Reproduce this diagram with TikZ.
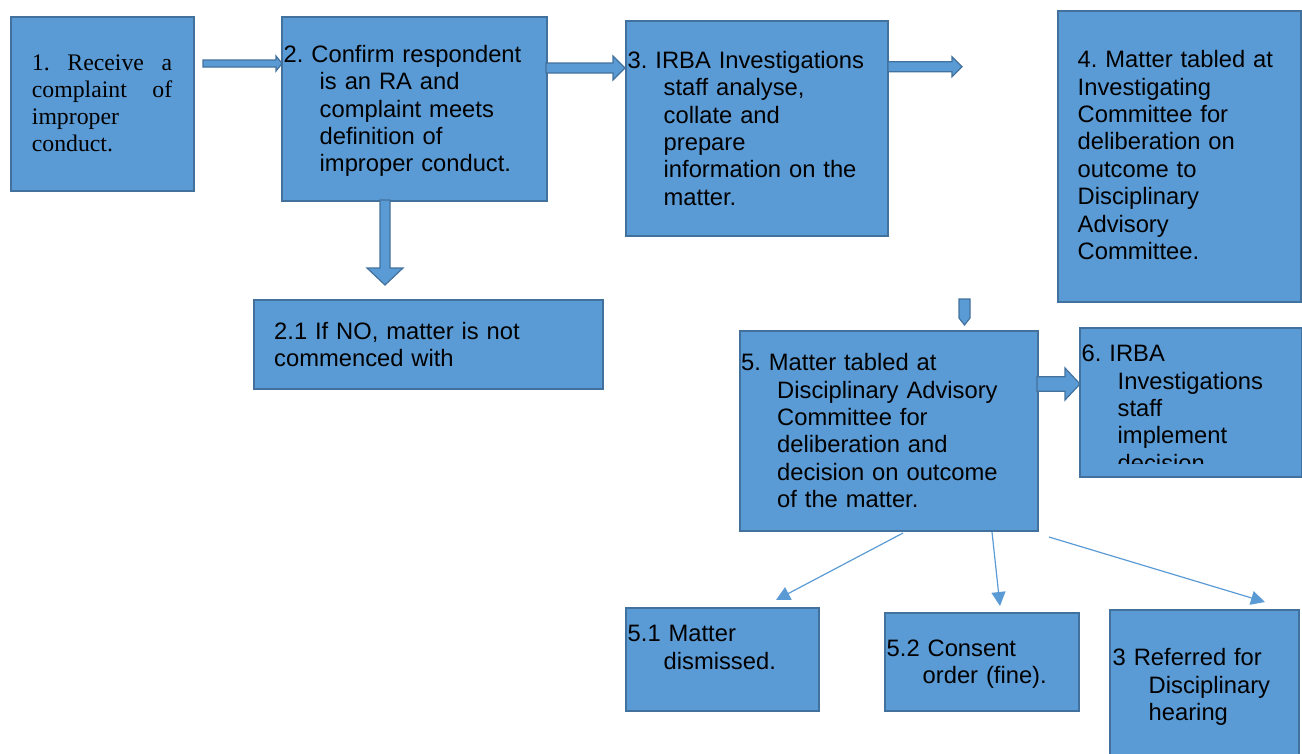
\documentclass[tikz,border=0pt]{standalone}
\usepackage{fontspec}
\setmainfont{Liberation Sans}
\newfontfamily\serifface{Liberation Serif}
\usetikzlibrary{arrows.meta}
\definecolor{boxfill}{HTML}{5B9BD5}
\definecolor{boxline}{HTML}{41719C}
\tikzset{
  box/.style={draw=boxline, fill=boxfill, line width=2pt, inner sep=0pt, anchor=north west},
  txt/.style={inner sep=0pt, anchor=base west, text width=330pt, align=left,
    font=\fontsize{23.75pt}{27.4pt}\selectfont\frenchspacing, text=black},
  blockarrow/.style={draw=boxline, fill=boxfill, line width=1.2pt, line join=miter},
  thinarrow/.style={draw=boxfill, line width=1.2pt, -{Triangle[length=14pt,width=14pt]}}
}
% right-pointing block arrow: x0, x1, yc, body half, head half, head length
\newcommand\blockright[6]{%
  \filldraw[blockarrow] (#1,#3-#4) -- (#2-#6,#3-#4) -- (#2-#6,#3-#5) -- (#2,#3)
    -- (#2-#6,#3+#5) -- (#2-#6,#3+#4) -- (#1,#3+#4) -- cycle;}
% down-pointing block arrow: xc, y0, y1, body half, head half, head length
\newcommand\blockdown[6]{%
  \filldraw[blockarrow] (#1-#4,#2) -- (#1-#4,#3-#6) -- (#1-#5,#3-#6) -- (#1,#3)
    -- (#1+#5,#3-#6) -- (#1+#4,#3-#6) -- (#1+#4,#2) -- cycle;}
\newcommand\ind{\hspace*{36pt}}
\begin{document}
\begin{tikzpicture}[x=1pt,y=-1pt]
\useasboundingbox (0,0) rectangle (1302,753);
\clip (0,0) rectangle (1302,753);

% boxes
\node[box, minimum width=183pt, minimum height=174pt] (b1) at (10,16) {};
\node[box, minimum width=265pt, minimum height=184pt] (b2) at (281,16) {};
\node[box, minimum width=349.6pt, minimum height=89pt] (b21) at (252.7,299.3) {};
\node[box, minimum width=262pt, minimum height=215pt] (b3) at (625,20) {};
\node[box, minimum width=243pt, minimum height=291pt] (b4) at (1057,10) {};
\node[box, minimum width=298pt, minimum height=200pt] (b5) at (739,330) {};
\node[box, minimum width=222pt, minimum height=149pt] (b6) at (1079,327) {};
\node[box, minimum width=193pt, minimum height=103pt] (b51) at (625,607) {};
\node[box, minimum width=194pt, minimum height=98pt] (b52) at (884,612) {};
\node[box, minimum width=189pt, minimum height=170pt] (b53) at (1109,609) {};

% block arrows
\blockright{203}{282}{63.5}{3.5}{7.5}{6}
\blockright{546}{625}{68}{5}{12}{12}
\blockright{888}{962}{66.7}{5}{10}{10}
\blockright{1037}{1080}{384}{7.3}{16}{15}
\blockdown{385}{200}{285}{5}{18}{17}
\blockdown{964.5}{299}{325}{5.5}{5.5}{7}

% thin arrows from box 5
\coordinate (s51) at (903,533);
\coordinate (e51) at (776,600);
\coordinate (s52) at (992,532);
\coordinate (e52) at (1000,606);
\coordinate (s53) at (1049,537);
\coordinate (e53) at (1265,602);
\draw[thinarrow] (s51) -- (e51);
\draw[thinarrow] (s52) -- (e52);
\draw[thinarrow] (s53) -- (e53);

% texts
\node[txt, font=\fontsize{23.75pt}{27.3pt}\serifface\frenchspacing] (t1) at (31.7,70)
  {\makebox[140.3pt][l]{1.\hfill Receive\hfill a}\\\makebox[140.3pt][l]{complaint\hfill of}\\improper\\conduct.};
\node[txt] (t2) at (283.5,62.3)
  {2. Confirm respondent\\\ind is an RA and\\\ind complaint meets\\\ind definition of\\\ind improper conduct.};
\node[txt] (t21) at (274,339.3)
  {2.1 If NO, matter is not\\commenced with};
\node[txt] (t3) at (627.5,68.3)
  {3. IRBA Investigations\\\ind staff analyse,\\\ind collate and\\\ind prepare\\\ind information on the\\\ind matter.};
\node[txt] (t4) at (1077.5,67.7)
  {4. Matter tabled at\\Investigating\\Committee for\\deliberation on\\outcome to\\Disciplinary\\Advisory\\Committee.};
\node[txt] (t5) at (741,370.7)
  {5. Matter tabled at\\\ind Disciplinary Advisory\\\ind Committee for\\\ind deliberation and\\\ind decision on outcome\\\ind of the matter.};
\begin{scope}
\clip (1079,327) rectangle (1302,463.3);
\node[txt] (t6) at (1081.5,361.7)
  {6. IRBA\\\ind Investigations\\\ind staff\\\ind implement\\\ind decision};
\end{scope}
\node[txt] (t51) at (627.5,641.7) {5.1 Matter\\\ind dismissed.};
\node[txt] (t52) at (886.5,656) {5.2 Consent\\\ind order (fine).};
\node[txt] (t53) at (1112.5,665.7) {3 Referred for\\\ind Disciplinary\\\ind hearing};
\end{tikzpicture}
\end{document}
